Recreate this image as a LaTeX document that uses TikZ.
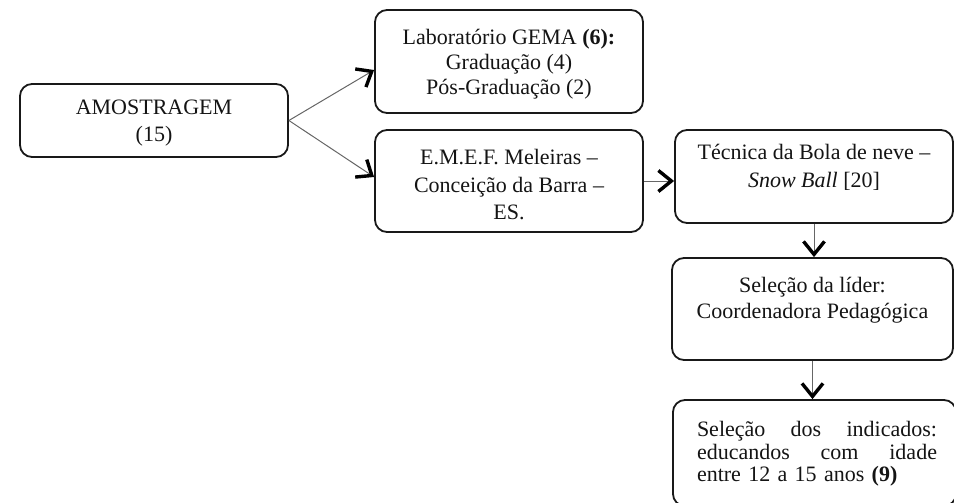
\documentclass[tikz,border=0pt]{standalone}
\usepackage{fontspec}
\setmainfont{Liberation Serif}
\usetikzlibrary{arrows.meta}
\begin{document}
\begin{tikzpicture}[x=1pt,y=-1pt,
  box/.style={draw=black!90, line width=1.8pt, rounded corners=12pt, inner sep=0pt},
  txt/.style={font=\fontsize{22}{26}\selectfont, align=center, text=black!92, inner sep=0pt},
  conn/.style={draw=black!60, line width=1pt, -{Straight Barb[length=13pt,width=21pt,line width=3.4pt,color=black]}}
]
\useasboundingbox (0,0) rectangle (954,503);
\clip (0,0) rectangle (954,503);

\node[box, minimum width=268pt, minimum height=73pt] (amos) at (154,120.5) {};
\node[txt, font=\fontsize{22}{27}\selectfont] (amosT) at ([yshift=-3pt]amos.center) {AMOSTRAGEM\\(15)};

\node[box, minimum width=268pt, minimum height=103pt] (lab) at (509,61.5) {};
\node[txt, font=\fontsize{22}{25}\selectfont] (labT) at ([yshift=-2.5pt]lab.center)
  {Laboratório GEMA \textbf{(6):}\\Graduação (4)\\Pós-Graduação (2)};

\node[box, minimum width=268pt, minimum height=102pt] (emef) at (509,181) {};
\node[txt, font=\fontsize{22}{27.5}\selectfont] (emefT) at ([yshift=-4pt]emef.center)
  {E.M.E.F. Meleiras --\\Conceição da Barra --\\ES.};

\node[box, minimum width=278pt, minimum height=93pt] (tecnica) at (814,176.5) {};
\node[txt, font=\fontsize{22}{28}\selectfont] (tecnicaT) at ([yshift=9pt]tecnica.center)
  {Técnica da Bola de neve --\\\textit{Snow Ball} [20]};

\node[box, minimum width=281pt, minimum height=102pt] (lider) at (812.5,309) {};
\node[txt] (liderT) at ([yshift=9pt]lider.center) {Seleção da líder:\\Coordenadora Pedagógica};

\node[box, minimum width=283pt, minimum height=106pt] (last) at (814.5,453) {};
\node[txt, font=\fontsize{22}{22.5}\selectfont, align=left, text width=240pt] (lastT) at (817,454)
  {\makebox[240pt][s]{Seleção\hfill dos\hfill indicados:}\\
   \makebox[240pt][s]{educandos\hfill com\hfill idade}\\
   entre 12 a 15 anos \textbf{(9)}};

\draw[conn] (amos.east) -- ([yshift=-8.5pt]lab.west);
\draw[conn] (amos.east) -- ([yshift=4pt]emef.west);
\draw[conn] (emef.east) -- (emef.east -| tecnica.west);
\draw[conn] (tecnica.south) -- (tecnica.south |- lider.north);
\draw[conn] (lider.south) -- (lider.south |- last.north);
\end{tikzpicture}
\end{document}
